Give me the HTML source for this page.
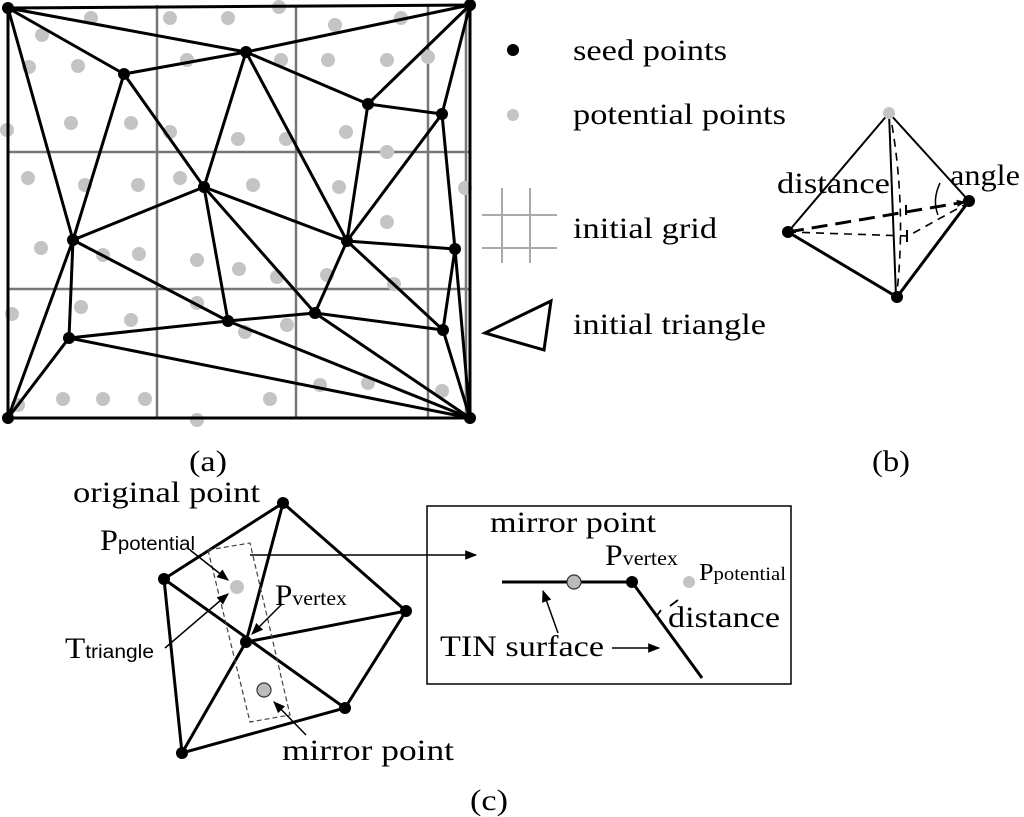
<!DOCTYPE html>
<html><head><meta charset="utf-8"><style>
html,body{margin:0;padding:0;background:#fff}
svg{display:block}
text{font-family:"Liberation Serif",serif;fill:#000}
.s{font-family:"Liberation Sans",sans-serif}
</style></head><body>
<svg width="1024" height="817" viewBox="0 0 1024 817" xmlns="http://www.w3.org/2000/svg">
<defs>
<marker id="ah" viewBox="0 0 10 10" refX="9" refY="5" markerWidth="9" markerHeight="9" orient="auto" markerUnits="userSpaceOnUse"><path d="M0,1 L10,5 L0,9 z" fill="#000"/></marker>
<marker id="ah2" viewBox="0 0 10 10" refX="9" refY="5" markerWidth="14" markerHeight="12" orient="auto" markerUnits="userSpaceOnUse"><path d="M0,1 L10,5 L0,9 z" fill="#000"/></marker>
</defs>
<!-- (a) grid -->
<g stroke="#777" stroke-width="2.5">
<line x1="157" y1="5" x2="157" y2="418"/><line x1="296" y1="5" x2="296" y2="418"/><line x1="428" y1="5" x2="428" y2="418"/><line x1="466" y1="5" x2="466" y2="418"/>
<line x1="8" y1="152" x2="470" y2="152"/><line x1="8" y1="289" x2="470" y2="289"/>
</g>
<g fill="#c4c4c4">
<circle cx="91" cy="18" r="7"/><circle cx="170" cy="18" r="7"/><circle cx="228" cy="18" r="7"/><circle cx="279" cy="7" r="7"/><circle cx="335" cy="25" r="7"/><circle cx="401" cy="18" r="7"/>
<circle cx="42" cy="35" r="7"/><circle cx="29" cy="67" r="7"/><circle cx="78" cy="66" r="7"/><circle cx="187" cy="60" r="7"/><circle cx="281" cy="60" r="7"/><circle cx="328" cy="60" r="7"/><circle cx="387" cy="60" r="7"/><circle cx="428" cy="57" r="7"/>
<circle cx="7" cy="130" r="7"/><circle cx="71" cy="123" r="7"/><circle cx="131" cy="123" r="7"/><circle cx="170" cy="132" r="7"/><circle cx="238" cy="139" r="7"/><circle cx="286" cy="139" r="7"/><circle cx="346" cy="132" r="7"/>
<circle cx="387" cy="152" r="7"/><circle cx="28" cy="178" r="7"/><circle cx="85" cy="185" r="7"/><circle cx="138" cy="185" r="7"/><circle cx="180" cy="178" r="7"/><circle cx="253" cy="185" r="7"/><circle cx="339" cy="187" r="7"/><circle cx="465" cy="188" r="7"/>
<circle cx="41" cy="248" r="7"/><circle cx="103" cy="255" r="7"/><circle cx="139" cy="254" r="7"/><circle cx="197" cy="260" r="7"/><circle cx="239" cy="269" r="7"/><circle cx="277" cy="277" r="7"/><circle cx="327" cy="275" r="7"/><circle cx="387" cy="222" r="7"/><circle cx="394" cy="284" r="7"/>
<circle cx="12" cy="314" r="7"/><circle cx="81" cy="307" r="7"/><circle cx="131" cy="320" r="7"/><circle cx="197" cy="303" r="7"/><circle cx="245" cy="332" r="7"/><circle cx="287" cy="325" r="7"/>
<circle cx="18" cy="405" r="7"/><circle cx="63" cy="399" r="7"/><circle cx="103" cy="399" r="7"/><circle cx="145" cy="399" r="7"/><circle cx="270" cy="399" r="7"/><circle cx="320" cy="385" r="7"/><circle cx="368" cy="383" r="7"/><circle cx="442" cy="391" r="7"/><circle cx="197" cy="420" r="7"/>
</g>
<g stroke="#000" stroke-width="3" fill="none" stroke-linecap="round">
<path d="M8,8 L470,5 L470,418 L8,418 Z"/>
<path d="M8,8 L124,74 M8,8 L246,52 M8,8 L73,240 M246,52 L470,5 M124,74 L246,52 M124,74 L73,240 M124,74 L204,187
M246,52 L204,187 M246,52 L347,241 M246,52 L368,104 M368,104 L470,5 M368,104 L442,114 M368,104 L347,241
M442,114 L470,5 M442,114 L455,249 M442,114 L347,241 M204,187 L73,240 M204,187 L347,241 M204,187 L228,321 M204,187 L315,313
M73,240 L228,321 M73,240 L69,338 M73,240 L8,418 M347,241 L455,249 M347,241 L315,313 M347,241 L443,330
M455,249 L443,330 M315,313 L228,321 M315,313 L443,330 M315,313 L470,418 M228,321 L69,338 M228,321 L470,418
M69,338 L8,418 M69,338 L470,418 M443,330 L470,418 M455,249 L470,418"/>
</g>
<g fill="#000">
<circle cx="8" cy="8" r="6"/><circle cx="470" cy="5" r="6"/><circle cx="8" cy="418" r="6"/><circle cx="470" cy="418" r="6"/>
<circle cx="124" cy="74" r="6"/><circle cx="246" cy="52" r="6"/><circle cx="368" cy="104" r="6"/><circle cx="442" cy="114" r="6"/>
<circle cx="204" cy="187" r="6"/><circle cx="73" cy="240" r="6"/><circle cx="347" cy="241" r="6"/><circle cx="455" cy="249" r="6"/>
<circle cx="228" cy="321" r="6"/><circle cx="315" cy="313" r="6"/><circle cx="443" cy="330" r="6"/><circle cx="69" cy="338" r="6"/>
</g>
<!-- legend -->
<circle cx="513" cy="50" r="6" fill="#000"/>
<text x="573" y="60" font-size="30" textLength="154" lengthAdjust="spacingAndGlyphs">seed points</text>
<circle cx="513" cy="115" r="6" fill="#c4c4c4"/>
<text x="573" y="124" font-size="30" textLength="213" lengthAdjust="spacingAndGlyphs">potential points</text>
<g stroke="#aaa" stroke-width="2"><line x1="502" y1="188" x2="502" y2="263"/><line x1="530" y1="188" x2="530" y2="263"/><line x1="482" y1="215" x2="557" y2="215"/><line x1="482" y1="248" x2="557" y2="248"/></g>
<text x="573" y="238" font-size="30" textLength="144" lengthAdjust="spacingAndGlyphs">initial grid</text>
<path d="M485,333 L551,301 L544,350 Z" fill="none" stroke="#000" stroke-width="3"/>
<text x="573" y="334" font-size="30" textLength="193" lengthAdjust="spacingAndGlyphs">initial triangle</text>
<text x="189" y="471" font-size="30" textLength="38" lengthAdjust="spacingAndGlyphs">(a)</text>
<text x="872" y="471" font-size="30" textLength="38" lengthAdjust="spacingAndGlyphs">(b)</text>
<!-- (b) -->
<g stroke="#000" fill="none">
<path d="M889,113 L788,232 M889,113 L969,201 M889,113 L896,296" stroke-width="2"/>
<path d="M788,232 L897,297 L969,201" stroke-width="3"/>
<path d="M788,232 L965,202" stroke-width="3" stroke-dasharray="16,8" marker-end="url(#ah)"/>
<path d="M788,232 L908,236 L966,204" stroke-width="1.6" stroke-dasharray="8,6"/>
<path d="M892,125 Q906,210 897,292" stroke-width="1.6" stroke-dasharray="8,6"/>
<path d="M940,183 Q932,200 938,215" stroke-width="1.5"/>
<path d="M906,205 L906,215 M907,230 L907,242" stroke-width="2"/>
</g>
<circle cx="889" cy="113" r="6" fill="#c4c4c4"/>
<circle cx="788" cy="232" r="6" fill="#000"/><circle cx="969" cy="201" r="6" fill="#000"/><circle cx="897" cy="297" r="6" fill="#000"/>
<text x="777" y="193" font-size="30" textLength="113" lengthAdjust="spacingAndGlyphs">distance</text>
<text x="950" y="185" font-size="30" textLength="70" lengthAdjust="spacingAndGlyphs">angle</text>
<!-- (c) left -->
<text x="73" y="502" font-size="30" textLength="187" lengthAdjust="spacingAndGlyphs">original point</text>
<g stroke="#000" stroke-width="3" fill="none">
<path d="M164,579 L283,503 L406,611 L345,708 L182,753 Z"/>
<path d="M283,503 L246,642 M164,579 L345,708 M182,753 L246,642 L406,611"/>
</g>
<polygon points="208,550 250,543 290,715 250,722" fill="none" stroke="#444" stroke-width="1.2" stroke-dasharray="5,3"/>
<line x1="250" y1="555" x2="476" y2="555" stroke="#000" stroke-width="1.5" marker-end="url(#ah2)"/>
<g fill="#000"><circle cx="164" cy="579" r="6"/><circle cx="283" cy="503" r="6"/><circle cx="406" cy="611" r="6"/><circle cx="345" cy="708" r="6"/><circle cx="182" cy="753" r="6"/><circle cx="246" cy="642" r="6"/></g>
<circle cx="237" cy="587" r="7" fill="#c4c4c4"/>
<circle cx="264" cy="690" r="7" fill="#bbb" stroke="#333" stroke-width="1.2"/>
<g stroke="#000" stroke-width="1.5">
<line x1="190" y1="550" x2="228" y2="580" marker-end="url(#ah2)"/>
<line x1="165" y1="648" x2="228" y2="594" marker-end="url(#ah2)"/>
<line x1="282" y1="604" x2="252" y2="634" marker-end="url(#ah2)"/>
<line x1="306" y1="735" x2="274" y2="702" marker-end="url(#ah2)"/>
</g>
<text x="100" y="550" font-size="30" textLength="95" lengthAdjust="spacingAndGlyphs">P<tspan font-size="19" style="font-family:'Liberation Sans',sans-serif">potential</tspan></text>
<text x="65" y="658" font-size="30" textLength="89" lengthAdjust="spacingAndGlyphs">T<tspan font-size="19" style="font-family:'Liberation Sans',sans-serif">triangle</tspan></text>
<text x="275" y="605" font-size="30" textLength="72" lengthAdjust="spacingAndGlyphs">P<tspan font-size="21">vertex</tspan></text>
<text x="282" y="760" font-size="30" textLength="172" lengthAdjust="spacingAndGlyphs">mirror point</text>
<text x="470" y="810" font-size="30" textLength="38" lengthAdjust="spacingAndGlyphs">(c)</text>
<!-- (c) inset -->
<rect x="427" y="506" width="364" height="178" fill="none" stroke="#000" stroke-width="1.5"/>
<text x="490" y="532" font-size="30" textLength="166" lengthAdjust="spacingAndGlyphs">mirror point</text>
<g stroke="#000" stroke-width="3" fill="none"><path d="M502,582 L632,582 L702,678"/></g>
<circle cx="574" cy="582" r="7" fill="#bbb" stroke="#333" stroke-width="1.2"/>
<circle cx="632" cy="582" r="6" fill="#000"/>
<circle cx="689" cy="582" r="6" fill="#c4c4c4"/>
<text x="605" y="565" font-size="30" textLength="73" lengthAdjust="spacingAndGlyphs">P<tspan font-size="21">vertex</tspan></text>
<text x="699" y="580" font-size="24" textLength="87" lengthAdjust="spacingAndGlyphs">P<tspan font-size="19">potential</tspan></text>
<g stroke="#000" stroke-width="1.8"><line x1="678" y1="600" x2="670" y2="606"/><line x1="661" y1="610" x2="656" y2="617"/></g>
<text x="668" y="627" font-size="30" textLength="112" lengthAdjust="spacingAndGlyphs">distance</text>
<text x="440" y="656" font-size="30" textLength="164" lengthAdjust="spacingAndGlyphs">TIN surface</text>
<g stroke="#000" stroke-width="1.5">
<line x1="612" y1="648" x2="659" y2="648" marker-end="url(#ah2)"/>
<line x1="558" y1="633" x2="543" y2="591" marker-end="url(#ah2)"/>
</g>
</svg>
</body></html>
